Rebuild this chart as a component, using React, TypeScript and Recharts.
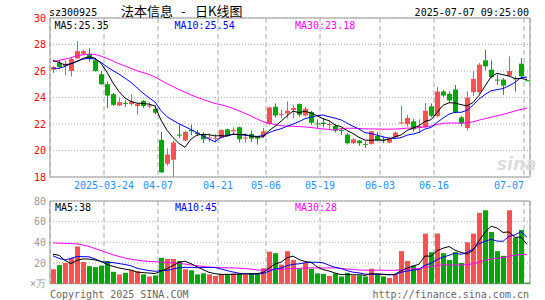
import React from "react";
import { Bar, CartesianGrid, Cell, ComposedChart, Line, ReferenceArea, XAxis, YAxis } from "recharts";

const dates = [
  "2025-03-11", "2025-03-12", "2025-03-13", "2025-03-14", "2025-03-17", "2025-03-18", "2025-03-19", "2025-03-20", "2025-03-21",
  "2025-03-24", "2025-03-25", "2025-03-26", "2025-03-27", "2025-03-28", "2025-03-31",
  "2025-04-01", "2025-04-02", "2025-04-03",
  "2025-04-07", "2025-04-08", "2025-04-09", "2025-04-10", "2025-04-11",
  "2025-04-14", "2025-04-15", "2025-04-16", "2025-04-17", "2025-04-18",
  "2025-04-21", "2025-04-22", "2025-04-23", "2025-04-24", "2025-04-25",
  "2025-04-28", "2025-04-29", "2025-04-30",
  "2025-05-06", "2025-05-07", "2025-05-08", "2025-05-09",
  "2025-05-12", "2025-05-13", "2025-05-14", "2025-05-15", "2025-05-16",
  "2025-05-19", "2025-05-20", "2025-05-21", "2025-05-22", "2025-05-23",
  "2025-05-26", "2025-05-27", "2025-05-28", "2025-05-29", "2025-05-30",
  "2025-06-03", "2025-06-04", "2025-06-05", "2025-06-06",
  "2025-06-09", "2025-06-10", "2025-06-11", "2025-06-12", "2025-06-13",
  "2025-06-16", "2025-06-17", "2025-06-18", "2025-06-19", "2025-06-20",
  "2025-06-23", "2025-06-24", "2025-06-25", "2025-06-26", "2025-06-27",
  "2025-06-30",
  "2025-07-01", "2025-07-02", "2025-07-03", "2025-07-04",
  "2025-07-07",
]

const openPx = [
  26.1, 26.62, 26.4, 26.0, 26.95, 27.3, 27.3, 26.8, 25.75, 25.0,
  24.25, 23.4, 23.6, 23.5, 23.35, 23.75, 23.35, 23.15, 20.8, 19.0,
  19.3, 21.2, 20.75, 21.55, 21.35, 21.25, 20.95, 20.9, 20.95, 21.6,
  21.45, 21.75, 20.9, 21.25, 21.05, 21.05, 22.0, 23.3, 22.7, 22.8,
  23.05, 23.5, 22.65, 22.9, 22.05, 22.1, 21.95, 21.86, 21.55, 21.2,
  20.55, 20.75, 20.5, 20.5, 21.1, 20.78, 20.6, 21.0, 22.05, 22.0,
  22.2, 21.75, 21.75, 23.33, 22.6, 24.45, 24.28, 24.6, 22.5, 21.7,
  24.4, 24.4, 26.8, 26.1, 25.35, 25.35, 25.65, 25.45, 26.55, 25.3,
]
const highPx = [
  26.4, 26.85, 26.8, 27.0, 28.25, 27.6, 27.7, 26.95, 26.0, 25.2,
  24.35, 23.95, 23.8, 24.25, 23.6, 23.8, 23.6, 23.4, 21.4, 20.15,
  20.75, 22.0, 21.5, 21.95, 21.55, 21.4, 21.3, 21.25, 21.6, 21.65,
  21.75, 21.8, 21.3, 21.5, 21.1, 21.7, 23.3, 23.55, 23.1, 23.7,
  23.45, 23.55, 23.3, 23.0, 22.35, 22.45, 22.2, 21.98, 21.68, 21.3,
  20.93, 20.8, 20.68, 21.5, 21.38, 21.05, 21.0, 21.43, 23.38, 22.7,
  22.37, 22.35, 23.58, 23.55, 24.8, 24.55, 24.45, 24.95, 22.62, 24.46,
  25.97, 26.6, 27.6, 26.8, 25.72, 25.47, 27.1, 25.6, 26.98, 25.32,
]
const lowPx = [
  25.85, 26.2, 25.7, 25.6, 26.9, 27.2, 26.7, 25.95, 24.95, 23.2,
  23.35, 23.35, 23.3, 23.4, 22.7, 23.2, 23.2, 22.75, 18.3, 18.85,
  18.0, 20.95, 20.7, 21.15, 21.1, 20.55, 20.65, 20.6, 20.9, 21.05,
  21.2, 20.6, 20.6, 20.65, 20.45, 20.95, 21.9, 22.5, 22.45, 22.4,
  22.45, 22.55, 22.55, 21.95, 21.7, 21.75, 21.6, 21.36, 21.18, 20.45,
  20.5, 20.37, 20.2, 20.45, 20.68, 20.55, 20.55, 20.93, 21.98, 21.8,
  21.43, 21.3, 21.7, 22.5, 22.5, 24.05, 23.63, 22.8, 21.86, 21.5,
  24.1, 24.3, 26.05, 25.47, 24.96, 24.2, 25.55, 24.46, 25.4, 25.28,
]
const closePx = [
  26.3, 26.3, 26.55, 26.9, 27.5, 27.5, 26.9, 26.0, 25.0, 24.15,
  23.45, 23.65, 23.55, 23.7, 23.5, 23.35, 23.4, 22.85, 18.35, 19.7,
  20.6, 21.15, 21.4, 21.45, 21.25, 20.85, 21.0, 20.95, 21.55, 21.1,
  21.55, 20.85, 20.98, 20.9, 20.9, 21.45, 23.25, 22.65, 22.75, 23.0,
  23.2, 22.7, 23.15, 22.1, 21.98, 22.0, 22.0, 21.5, 21.5, 20.55,
  20.85, 20.55, 20.45, 21.45, 20.75, 20.72, 20.93, 21.35, 22.12, 22.45,
  21.6, 21.85, 23.0, 22.62, 24.45, 24.15, 23.78, 22.87, 22.05, 24.0,
  25.4, 26.48, 26.35, 25.55, 25.3, 24.9, 26.0, 25.4, 25.6, 25.28,
]

const ma5 = [
  26.8, 26.65, 26.45, 26.55, 26.71, 26.95, 27.07, 26.97, 26.58, 25.91,
  25.1, 24.45, 23.96, 23.7, 23.57, 23.55, 23.5, 23.36, 22.29, 21.53,
  20.98, 20.53, 20.24, 20.86, 21.17, 21.22, 21.19, 21.1, 21.12, 21.09,
  21.23, 21.2, 21.21, 21.08, 21.04, 21.02, 21.5, 21.83, 22.2, 22.62,
  22.97, 22.86, 22.96, 22.83, 22.63, 22.39, 22.25, 21.92, 21.8, 21.51,
  21.28, 20.99, 20.78, 20.77, 20.81, 20.78, 20.86, 21.04, 21.17, 21.51,
  21.69, 21.87, 22.2, 22.32, 22.86, 23.41, 23.6, 23.59, 23.46, 23.37,
  23.62, 24.16, 24.86, 25.56, 25.82, 25.72, 25.62, 25.43, 25.44, 25.35,
]
const ma10 = [
  26.2, 26.2, 26.35, 26.55, 26.75, 26.9, 26.95, 26.9, 26.65, 26.31,
  26.03, 25.76, 25.46, 25.14, 24.74, 24.33, 23.98, 23.66, 23.0, 22.55,
  22.27, 22.02, 21.8, 21.58, 21.35, 21.1, 20.86, 20.67, 20.99, 21.13,
  21.23, 21.2, 21.15, 21.1, 21.06, 21.12, 21.35, 21.52, 21.64, 21.83,
  21.99, 22.18, 22.4, 22.52, 22.62, 22.68, 22.55, 22.44, 22.31, 22.07,
  21.83, 21.62, 21.35, 21.28, 21.16, 21.03, 20.93, 20.91, 20.97, 21.16,
  21.24, 21.37, 21.62, 21.74, 22.11, 22.45, 22.74, 22.89, 22.88, 23.04,
  23.42, 23.88, 24.22, 24.51, 24.59, 24.67, 24.89, 25.14, 25.5, 25.54,
]
const ma30 = [
  26.7, 26.8, 26.9, 27.0, 27.15, 27.22, 27.27, 27.25, 27.12, 26.95,
  26.75, 26.55, 26.38, 26.2, 26.02, 25.88, 25.75, 25.55, 25.3, 25.05,
  24.82, 24.6, 24.4, 24.2, 24.02, 23.85, 23.7, 23.55, 23.45, 23.33,
  23.17, 22.99, 22.8, 22.6, 22.38, 22.18, 22.06, 21.95, 21.87, 21.84,
  21.83, 21.8, 21.78, 21.73, 21.68, 21.63, 21.59, 21.54, 21.65, 21.68,
  21.68, 21.66, 21.63, 21.63, 21.62, 21.61, 21.61, 21.62, 21.64, 21.69,
  21.69, 21.72, 21.79, 21.85, 21.96, 22.05, 22.07, 22.08, 22.06, 22.09,
  22.16, 22.29, 22.4, 22.51, 22.62, 22.72, 22.85, 22.98, 23.1, 23.18,
]

// 成交量 (万手)
const volume = [
  14, 18, 20, 25, 36, 21, 17, 16, 17.5, 22,
  11.5, 9, 10.5, 13, 12, 9, 7, 8, 25, 24,
  24, 22, 14, 13, 9, 10, 9, 7.5, 9.5, 9,
  10, 10, 9, 10, 10, 15, 31, 29.5, 18.5, 31.5,
  23, 14.5, 20, 14.5, 10, 9.5, 7.5, 10, 7, 10.5,
  8, 8, 7, 14.5, 9.5, 7, 5.5, 9, 31.5, 22,
  17.5, 14.5, 48.5, 30.5, 48.5, 29.5, 23, 30.5, 20, 40,
  48.5, 68.5, 71, 50, 31.5, 27, 71, 44.5, 52, 1,
]
const vma5 = [
  28.5, 27.5, 22.5, 19.5, 22.6, 24, 23.8, 23, 21.5, 18.7,
  16.8, 15.2, 14.1, 13.2, 11.2, 10.7, 10.3, 9.8, 12.2, 14.6,
  17.6, 20.6, 21.8, 19.4, 16.4, 13.6, 11, 9.7, 9, 9,
  9, 9.2, 9.5, 9.6, 9.8, 10.8, 15, 19.1, 20.8, 25.1,
  26.7, 23.4, 21.5, 20.7, 16.4, 13.7, 12.3, 10.3, 8.8, 8.9,
  8.6, 8.7, 8.1, 9.6, 9.4, 9.2, 8.7, 9.1, 12.5, 15,
  17.1, 18.9, 26.8, 26.6, 31.9, 34.3, 36, 32.4, 30.3, 28.6,
  32.4, 41.5, 49.6, 55.6, 53.9, 49.6, 50.1, 44.8, 45.2, 38,
]
const vma10 = [
  27, 24.5, 23, 24.5, 26.2, 26.2, 26, 24, 21.5, 20.65,
  20.4, 19.5, 18.55, 17.35, 14.95, 13.75, 12.75, 11.95, 12.7, 12.9,
  14.15, 15.45, 15.8, 15.8, 15.5, 15.6, 15.8, 15.75, 14.2, 12.7,
  11.3, 10.1, 9.6, 9.3, 9.4, 9.9, 12.1, 14.3, 15.2, 17.45,
  18.75, 19.2, 20.3, 20.75, 20.75, 20.2, 17.85, 15.9, 14.75, 12.65,
  11.15, 10.5, 9.2, 9.2, 9.15, 8.9, 8.7, 8.6, 11.05, 12.2,
  13.15, 13.8, 17.95, 19.55, 23.45, 25.7, 27.45, 29.6, 28.45, 30.25,
  33.35, 38.75, 41, 42.95, 41.25, 41, 45.8, 47.2, 50.4, 45,
]
const vma30 = [
  39.5, 39.2, 39, 38.8, 38.5, 37.5, 36, 34, 32, 30,
  28, 26.3, 24.8, 23.7, 22.8, 22.1, 21.6, 21.2, 20.9, 20.6,
  20.2, 19.6, 19, 18.2, 17.4, 16.6, 16, 15.6, 15.5, 15.4,
  15.3, 15.0, 14.65, 14.15, 13.3, 13.1, 13.55, 14, 14.05, 14.35,
  14.75, 14.9, 15.25, 15.3, 15.2, 15.25, 15.25, 15.3, 14.7, 14.25,
  13.75, 13.25, 13.05, 13.1, 13.1, 13, 12.9, 12.95, 13.65, 14.1,
  14.35, 14.5, 15.8, 16.5, 17.8, 18.25, 18, 18.05, 18.1, 18.35,
  19.2, 21, 22.7, 23.9, 24.6, 25.2, 26.5, 27.5, 28.3, 28,
]

const tickLabels = ["2025-03-24", "04-07", "04-21", "05-06", "05-19", "06-03", "06-16", "07-07"]
const priceTicks = [18, 20, 22, 24, 26, 28, 30]
const volTicks = [0, 20, 40, 60, 80]

const UP = "#ff5050"
const DOWN = "#00a800"
const MONO = "DejaVu Sans Mono"
const CJK = "Noto Sans CJK SC"
const W = 545

const rows = dates.map((date, i) => ({
  i,
  date,
  open: openPx[i],
  high: highPx[i],
  low: lowPx[i],
  close: closePx[i],
  up: closePx[i] >= openPx[i],
  ma5: ma5[i],
  ma10: ma10[i],
  ma30: ma30[i],
  vol: volume[i],
  vma5: vma5[i],
  vma10: vma10[i],
  vma30: vma30[i],
}))

const xDomain = [-0.5, dates.length - 0.5]
// grid line sits on the left edge of the labelled day
const tickPos = tickLabels.map((l) => dates.findIndex((d) => d.endsWith(l)) - 0.5)
const last = (a: number[]) => a[a.length - 1]

const Candle = (props: any) => {
  const { x, y, width, height, payload } = props
  if (!payload) return null
  const top = Math.min(y, y + height)
  const span = Math.abs(height)
  const { open, close, high, low } = payload
  const k = high > low ? span / (high - low) : 0
  const oy = top + (high - open) * k
  const cy = top + (high - close) * k
  const color = close >= open ? UP : DOWN
  const cx = x + width / 2
  return (
    <g>
      <line x1={cx} x2={cx} y1={top} y2={top + span} stroke={color} strokeWidth={1} />
      <rect x={x} y={Math.min(oy, cy)} width={width} height={Math.max(Math.abs(oy - cy), 1)} fill={color} />
    </g>
  )
}

const DateTick = (props: any) => {
  const { x, y, payload } = props
  const label = tickLabels[tickPos.indexOf(payload.value)] ?? ""
  const anchor = x + label.length * 3 > W - 15 ? "end" : "middle"
  return (
    <text x={x} y={y} dy="0.71em" textAnchor={anchor} fill="#1e90ff" fontSize={10} fontFamily={MONO}>
      {label}
    </text>
  )
}

const VolTick = (props: any) => {
  const { x, y, payload } = props
  return (
    <text x={x} y={y} dy="0.355em" textAnchor="end" fill="#999" fontSize={10} fontFamily={MONO}>
      {payload.value === 0 ? "×万" : payload.value}
    </text>
  )
}

function PriceChart() {
  return (
    <ComposedChart width={W} height={195} data={rows} margin={{ top: 18, right: 15, bottom: 0, left: 0 }}>
      <CartesianGrid vertical={false} stroke="#aaa" strokeDasharray="1 2" />
      <CartesianGrid horizontal={false} stroke="#aaa" strokeDasharray="5 3" />
      <XAxis
        type="number"
        dataKey="i"
        domain={xDomain}
        ticks={tickPos}
        interval={0}
        height={18}
        tickSize={0}
        tickMargin={5}
        axisLine={false}
        tickLine={false}
        tick={<DateTick />}
      />
      <YAxis
        domain={[18, 30]}
        ticks={priceTicks}
        interval={0}
        width={50}
        tickSize={0}
        tickMargin={4}
        axisLine={false}
        tickLine={false}
        tick={{ fill: "#ff0000", fontSize: 10, fontFamily: MONO }}
      />
      <ReferenceArea x1={xDomain[0]} x2={xDomain[1]} y1={18} y2={30} fill="none" stroke="#999" ifOverflow="visible" />
      <Bar dataKey={(d: any) => [d.low, d.high]} shape={<Candle />} barSize={5} isAnimationActive={false} />
      <Line dataKey="ma30" stroke="#ff00ff" strokeWidth={1} dot={false} activeDot={false} isAnimationActive={false} />
      <Line dataKey="ma10" stroke="#0000ff" strokeWidth={1} dot={false} activeDot={false} isAnimationActive={false} />
      <Line dataKey="ma5" stroke="#000" strokeWidth={1} dot={false} activeDot={false} isAnimationActive={false} />
    </ComposedChart>
  )
}

function VolumeChart() {
  return (
    <ComposedChart width={W} height={105} data={rows} margin={{ top: 6, right: 15, bottom: 16.3, left: 0 }}>
      <CartesianGrid vertical={false} stroke="#aaa" strokeDasharray="1 2" />
      <CartesianGrid horizontal={false} stroke="#aaa" strokeDasharray="5 3" />
      <XAxis type="number" dataKey="i" domain={xDomain} ticks={tickPos} interval={0} hide />
      <YAxis
        domain={[0, 80]}
        ticks={volTicks}
        interval={0}
        width={50}
        tickSize={0}
        tickMargin={4}
        axisLine={false}
        tickLine={false}
        tick={<VolTick />}
      />
      <ReferenceArea x1={xDomain[0]} x2={xDomain[1]} y1={0} y2={80} fill="none" stroke="#999" ifOverflow="visible" />
      <Bar dataKey="vol" barSize={5} isAnimationActive={false}>
        {rows.map((r) => (
          <Cell key={r.i} fill={r.up ? UP : DOWN} />
        ))}
      </Bar>
      <Line dataKey="vma30" stroke="#ff00ff" strokeWidth={1} dot={false} activeDot={false} isAnimationActive={false} />
      <Line dataKey="vma10" stroke="#0000ff" strokeWidth={1} dot={false} activeDot={false} isAnimationActive={false} />
      <Line dataKey="vma5" stroke="#000" strokeWidth={1} dot={false} activeDot={false} isAnimationActive={false} />
    </ComposedChart>
  )
}

export default function App() {
  return (
    <div style={{ position: "absolute", left: 0, top: 0, width: W, height: 300, background: "#fff", fontFamily: MONO }}>
      <div style={{ position: "absolute", left: 0, top: 0 }}>
        <PriceChart />
      </div>
      <div style={{ position: "absolute", left: 0, top: 195 }}>
        <VolumeChart />
      </div>
      <svg width={W} height={300} style={{ position: "absolute", left: 0, top: 0, pointerEvents: "none" }}>
        <g fontFamily={MONO} fontSize={10}>
          <text x={49} y={15.5} fill="#000">sz300925</text>
          <text x={529} y={15.5} fill="#000" textAnchor="end">2025-07-07 09:25:00</text>
          <text x={54.5} y={28.5} fill="#000">{`MA5:${last(ma5).toFixed(2)}`}</text>
          <text x={174.5} y={28.5} fill="#0000ff">{`MA10:${last(ma10).toFixed(2)}`}</text>
          <text x={295} y={28.5} fill="#ff00ff">{`MA30:${last(ma30).toFixed(2)}`}</text>
          <text x={55} y={210.5} fill="#000">{`MA5:${Math.round(last(vma5))}`}</text>
          <text x={175} y={210.5} fill="#0000ff">{`MA10:${Math.round(last(vma10))}`}</text>
          <text x={295} y={210.5} fill="#ff00ff">{`MA30:${Math.round(last(vma30))}`}</text>
          <text x={50} y={297.5} fill="#666">Copyright 2025 SINA.COM</text>
          <text x={529} y={297.5} fill="#666" textAnchor="end">http://finance.sina.com.cn</text>
        </g>
        <g fill="#000" fontSize={13} fontFamily={CJK}>
          <text x={121} y={16}>法本信息</text>
          <text x={181} y={16}>-</text>
          <text x={195} y={16}>日K线图</text>
        </g>
        <text x={497} y={170} fill="#ddd" fontSize={17} fontStyle="italic" fontWeight="bold" fontFamily="DejaVu Sans">sina</text>
      </svg>
    </div>
  )
}
